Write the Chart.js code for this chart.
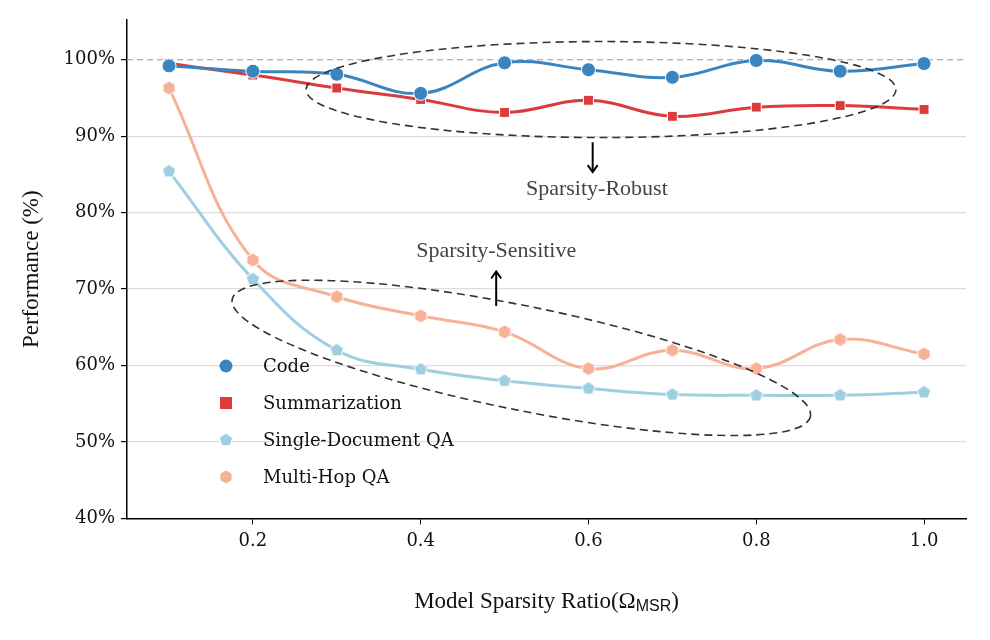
<!DOCTYPE html>
<html><head><meta charset="utf-8">
<script src="https://cdn.jsdelivr.net/npm/chart.js@4"></script>
<style>body{margin:0;background:#fff}#wrap{width:990px;height:640px}</style>
</head><body><div id="wrap"><canvas id="myChart"></canvas></div>
<script>
const ratios = [0.1, 0.2, 0.3, 0.4, 0.5, 0.6, 0.7, 0.8, 0.9, 1.0];
const codeVals = [99.2, 98.5, 98.1, 95.6, 99.6, 98.7, 97.7, 99.9, 98.5, 99.5];
const summVals = [99.5, 98.0, 96.3, 94.8, 93.1, 94.7, 92.6, 93.8, 94.0, 93.5];
const singleVals = [85.4, 71.3, 62.0, 59.5, 58.0, 57.0, 56.2, 56.1, 56.1, 56.5];
const multiVals = [96.3, 73.8, 69.0, 66.5, 64.4, 59.6, 62.0, 59.6, 63.4, 61.5];
const seriesNames = ["Code", "Summarization", "Single-Document QA", "Multi-Hop QA"];
const yTicks = [40, 50, 60, 70, 80, 90, 100];

const colors = ["#3a84c0", "#dc3b3e", "#9ecfe0", "#f7b197"];
const font = "DejaVu Serif";
const titleFont = "Liberation Serif";

function polyMarker(n, color, r) {
  const c = document.createElement("canvas");
  c.width = c.height = r * 2 + 4;
  const g = c.getContext("2d");
  g.beginPath();
  for (let i = 0; i < n; i++) {
    const a = -Math.PI / 2 + i * 2 * Math.PI / n;
    const px = r + 2 + r * Math.cos(a), py = r + 2 + r * Math.sin(a);
    i ? g.lineTo(px, py) : g.moveTo(px, py);
  }
  g.closePath();
  g.fillStyle = color; g.fill();
  g.strokeStyle = "#fff"; g.lineWidth = 1; g.stroke();
  return c;
}
const styles = ["circle", "rect", polyMarker(5, colors[2], 7), polyMarker(6, colors[3], 7)];
const valSets = [codeVals, summVals, singleVals, multiVals];

const datasets = seriesNames.map((name, i) => ({
  label: name,
  data: ratios.map((x, j) => ({ x: x, y: valSets[i][j] })),
  borderColor: colors[i],
  backgroundColor: colors[i],
  pointBorderColor: "#fff",
  pointBorderWidth: 1,
  pointStyle: styles[i],
  pointRadius: 7,
  borderWidth: 3,
  tension: 0.4
}));

const extras = {
  id: "extras",
  beforeDatasetsDraw(chart) {
    const { ctx, scales: { x, y }, chartArea } = chart;
    ctx.save();
    ctx.strokeStyle = "#999"; ctx.setLineDash([6, 4]); ctx.lineWidth = 1.2;
    ctx.beginPath(); ctx.moveTo(chartArea.left, y.getPixelForValue(100));
    ctx.lineTo(chartArea.right, y.getPixelForValue(100)); ctx.stroke();
    ctx.restore();
  },
  afterDatasetsDraw(chart) {
    const { ctx, scales: { x, y } } = chart;
    ctx.save();
    ctx.strokeStyle = "#333"; ctx.lineWidth = 1.6; ctx.setLineDash([8, 5]);
    const ell = (cx, cy, rx, ry, rot) => {
      ctx.beginPath();
      ctx.ellipse(x.getPixelForValue(cx), y.getPixelForValue(cy), rx, ry, rot, 0, 2 * Math.PI);
      ctx.stroke();
    };
    ell(0.615, 96.1, 295, 48, 0.0);
    ell(0.52, 61.0, 295, 52, 0.2);
    ctx.setLineDash([]);
    const arrow = (xv, y0, y1) => {
      const px = x.getPixelForValue(xv), a = y.getPixelForValue(y0), b = y.getPixelForValue(y1);
      const d = b > a ? 1 : -1;
      ctx.lineWidth = 2; ctx.strokeStyle = "#000";
      ctx.beginPath(); ctx.moveTo(px, a); ctx.lineTo(px, b); ctx.stroke();
      ctx.beginPath(); ctx.moveTo(px - 5, b - 7 * d); ctx.lineTo(px, b); ctx.lineTo(px + 5, b - 7 * d); ctx.stroke();
    };
    arrow(0.605, 89.2, 85.3);
    arrow(0.49, 67.8, 72.3);
    ctx.fillStyle = "#444"; ctx.font = "22px " + titleFont; ctx.textAlign = "center"; ctx.textBaseline = "middle";
    ctx.fillText("Sparsity-Robust", x.getPixelForValue(0.61), y.getPixelForValue(83));
    ctx.fillText("Sparsity-Sensitive", x.getPixelForValue(0.49), y.getPixelForValue(74.9));
    // legend
    ctx.font = "18px " + font; ctx.textAlign = "left"; ctx.fillStyle = "#111";
    seriesNames.forEach((n, i) => {
      const ly = 366 + i * 37, lx = 226;
      const st = styles[i];
      if (st === "circle") { ctx.beginPath(); ctx.arc(lx, ly, 6.5, 0, 2 * Math.PI); ctx.fillStyle = colors[i]; ctx.fill(); }
      else if (st === "rect") { ctx.fillStyle = colors[i]; ctx.fillRect(lx - 6, ly - 6, 12, 12); }
      else ctx.drawImage(st, lx - st.width / 2, ly - st.height / 2);
      ctx.fillStyle = "#111"; ctx.fillText(n, 263, ly + 1);
    });
    // x title with subscript
    const cx = (chart.chartArea.left + chart.chartArea.right) / 2, ty = 602;
    ctx.font = "23px " + titleFont; ctx.fillStyle = "#111";
    const main = "Model Sparsity Ratio(Ω", sub = "MSR";
    const w1 = ctx.measureText(main).width;
    ctx.font = "16px Liberation Sans"; const w2 = ctx.measureText(sub).width;
    ctx.font = "23px " + titleFont; const w3 = ctx.measureText(")").width;
    let sx = cx - (w1 + w2 + w3) / 2;
    ctx.fillText(main, sx, ty);
    ctx.font = "16px Liberation Sans"; ctx.fillText(sub, sx + w1, ty + 5);
    ctx.font = "23px " + titleFont; ctx.fillText(")", sx + w1 + w2, ty);
    ctx.restore();
  }
};

new Chart(document.getElementById("myChart"), {
  type: "line",
  data: { datasets: datasets },
  plugins: [extras],
  options: {
    responsive: true, maintainAspectRatio: false, animation: false,
    layout: { padding: { top: 20, right: 24, left: 14, bottom: 82 } },
    plugins: { legend: { display: false }, tooltip: { enabled: false } },
    scales: {
      x: {
        type: "linear", min: 0.05, max: 1.05,
        afterBuildTicks: (s) => { s.ticks = [0.2, 0.4, 0.6, 0.8, 1.0].map(v => ({ value: v })); },
        ticks: { color: "#111", font: { family: font, size: 18 }, callback: (v) => v.toFixed(1), padding: 6 },
        grid: { display: true, color: "rgba(0,0,0,0)", tickColor: "#000", drawTicks: true, tickLength: 6 },
        border: { color: "#000", width: 1.5 }
      },
      y: {
        min: 40, max: 105.2,
        afterBuildTicks: (s) => { s.ticks = yTicks.map(v => ({ value: v })); },
        ticks: { color: "#111", font: { family: font, size: 18 }, callback: (v) => v + "%", padding: 6 },
        grid: {
          color: (c) => c.tick && c.tick.value > 40 && c.tick.value < 100 ? "#ddd" : "rgba(0,0,0,0)",
          tickColor: "#000", drawTicks: true, tickLength: 6, lineWidth: 1.2
        },
        border: { color: "#000", width: 1.5 },
        title: { display: true, text: "Performance (%)", color: "#111", font: { family: titleFont, size: 23 }, padding: { bottom: 12 } }
      }
    }
  }
});
</script></body></html>
